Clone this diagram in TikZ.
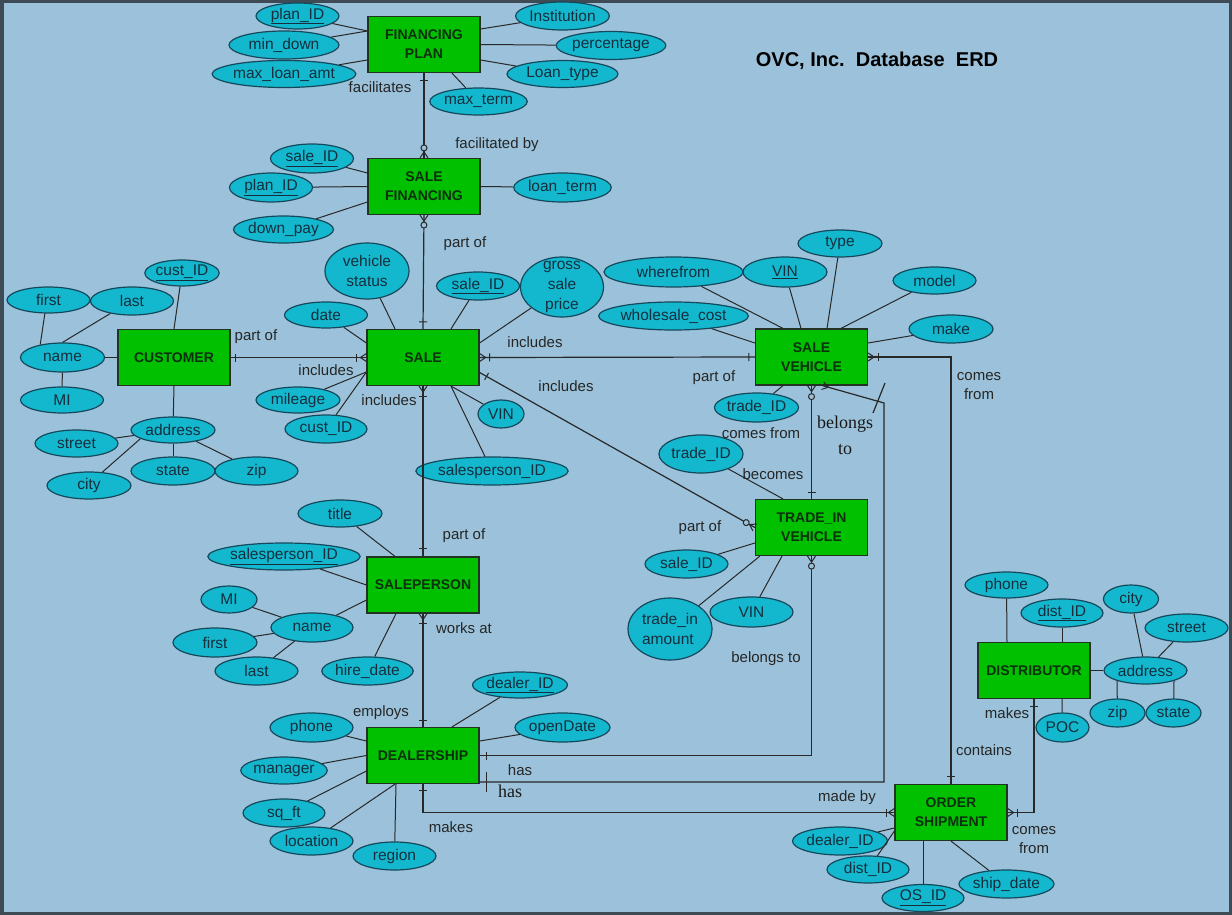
\documentclass[tikz,border=0pt]{standalone}
\usepackage{fontspec}
\setmainfont{Liberation Sans}
\newfontfamily\timesface{Liberation Serif}
\usepackage{tikz}
\usetikzlibrary{shapes.geometric}
\usetikzlibrary{decorations.markings}
\usetikzlibrary{positioning}
\definecolor{bgblue}{RGB}{155,194,218}
\definecolor{framegray}{RGB}{62,74,84}
\definecolor{entgreen}{RGB}{0,192,0}
\definecolor{entline}{RGB}{35,50,35}
\definecolor{enttext}{RGB}{12,48,12}
\definecolor{attrcyan}{RGB}{20,184,206}
\definecolor{attrline}{RGB}{22,72,92}
\definecolor{attrtext}{RGB}{22,46,62}
\definecolor{relline}{RGB}{40,40,40}
\tikzset{
  entity/.style = {rectangle, draw=entline, fill=entgreen, line width=1.2pt,
    minimum width=112pt, minimum height=56pt, inner sep=1pt, align=center,
    text=enttext, font=\fontsize{14}{19}\selectfont\bfseries},% entite
  attr/.style = {ellipse, draw=attrline, fill=attrcyan, line width=1.2pt,
    minimum width=83pt, minimum height=28pt, inner sep=0pt, align=center,
    text=attrtext, font=\fontsize{15.5}{20}\selectfont},% attribut
  lbl/.style = {inner sep=0pt, text=black!85, align=center,
    font=\fontsize{15}{19}\selectfont},
  tlbl/.style = {inner sep=0pt, text=black!90, align=center,
    font=\timesface\fontsize{18}{26}\selectfont},
  link/.style = {draw=relline, line width=1pt},
  rel/.style = {draw=relline, line width=1.2pt},
  one at/.style = {postaction={decorate, decoration={markings,
    mark=at position #1 with {\draw[relline, line width=1pt] (0pt,-4pt) -- (0pt,4pt);}}}},
  bar at/.style = {postaction={decorate, decoration={markings,
    mark=at position #1 with {\draw[relline, line width=1.2pt] (0pt,-10pt) -- (0pt,10pt);}}}},
  zero at/.style = {postaction={decorate, decoration={markings,
    mark=at position #1 with {\draw[relline, line width=1pt, fill=bgblue] (0pt,0pt) circle (3pt);}}}},
  many end/.style = {postaction={decorate, decoration={markings,
    mark=at position -6pt with {\draw[relline, line width=1pt] (6pt,4pt) -- (0pt,0pt) -- (6pt,-4pt);}}}},
  many start/.style = {postaction={decorate, decoration={markings,
    mark=at position 6pt with {\draw[relline, line width=1pt] (-6pt,4pt) -- (0pt,0pt) -- (-6pt,-4pt);}}}}
}
\begin{document}
\begin{tikzpicture}[x=1pt, y=-1pt]
\fill[framegray] (0,0) rectangle (1232,915);
\fill[bgblue] (4,3) rectangle (1229,912);

\node[inner sep=0pt, font=\fontsize{20}{24}\selectfont\bfseries] (title) at (877,61)
  {OVC, Inc.\ \ Database\ \ ERD};

% entities
\node[entity] (fp) at (424,44.5) {FINANCING\\PLAN};
\node[entity] (sf) at (424,186.5) {SALE\\FINANCING};
\node[entity] (cu) at (174,357.5) {CUSTOMER};
\node[entity] (sa) at (423,357.5) {SALE};
\node[entity] (sv) at (811.5,357) {SALE\\VEHICLE};
\node[entity] (tv) at (811.5,527.5) {TRADE\_IN\\VEHICLE};
\node[entity] (sp) at (423,585) {SALEPERSON};
\node[entity] (dl) at (423,755.5) {DEALERSHIP};
\node[entity] (di) at (1034,670.5) {DISTRIBUTOR};
\node[entity] (os) at (951,812.5) {ORDER\\SHIPMENT};

% financing plan
\node[attr, minimum height=26pt] (fpid) at (297.5,16) {\underline{plan\_ID}};
\node[attr, minimum width=110pt] (fpmin) at (284,45) {min\_down};
\node[attr, minimum width=138pt, minimum height=27pt] (fpmax) at (284,74) {max\_loan\_amt};
\node[attr] (fpinst) at (562.5,16) {Institution};
\node[attr, minimum width=97pt] (fppct) at (611,45.5) {percentage};
\node[attr, minimum width=111pt, minimum height=27pt] (fptype) at (562.5,74) {Loan\_type};
\node[attr, minimum width=85pt, minimum height=27pt] (fpterm) at (478.5,101.5) {max\_term};
\draw[link] (fpid) -- ([yshift=13.5pt]fp.west);
\draw[link] (fpmin) -- ([yshift=13.5pt]fp.west);
\draw[link] (fpmax) -- ([yshift=-15.5pt]fp.west);
\draw[link] (fpinst) -- ([yshift=15.5pt]fp.east);
\draw[link] (fppct) -- (fp.east);
\draw[link] (fptype) -- ([yshift=-15.5pt]fp.east);
\draw[link] (fpterm) -- ([xshift=28pt]fp.south);

% sale financing
\node[attr, minimum height=29pt] (sfsid) at (312,158.5) {\underline{sale\_ID}};
\node[attr, minimum height=29pt] (sfpid) at (271,187.5) {\underline{plan\_ID}};
\node[attr, minimum height=27pt] (sfdown) at (283.5,229.5) {down\_pay};
\node[attr, minimum height=29pt] (sfterm) at (562.5,187.5) {loan\_term};
\draw[link] (sfsid) -- ([yshift=13.5pt]sf.west);
\draw[link] (sfpid) -- (sf.west);
\draw[link] (sfdown) -- ([yshift=-15.5pt]sf.west);
\draw[link] (sfterm) -- (sf.east);

% customer
\node[attr, minimum width=73pt, minimum height=26pt] (cuid) at (182,273) {\underline{cust\_ID}};
\node[attr, minimum height=26pt] (cufirst) at (48.5,300) {first};
\node[attr] (culast) at (132,301) {last};
\node[attr, minimum width=84pt, minimum height=29pt] (cuname) at (62.5,357.5) {name};
\node[attr, minimum height=26pt] (cumi) at (62,400) {MI};
\node[attr, minimum width=84pt, minimum height=26pt] (cuaddr) at (173,430) {address};
\node[attr, minimum height=27pt] (custreet) at (76.5,443.5) {street};
\node[attr, minimum width=84pt] (custate) at (173,471) {state};
\node[attr] (cuzip) at (256.5,471) {zip};
\node[attr, minimum width=84pt, minimum height=27pt] (cucity) at (89,485.5) {city};
\draw[link] (cuid) -- (cu.north);
\draw[link] (cuname) -- (cu.west);
\draw[link] (cufirst.255) -- (cuname.150);
\draw[link] (culast.210) -- (cuname.north);
\draw[link] (cumi) -- (cuname);
\draw[link] (cuaddr) -- (cu.south);
\draw[link] (custreet) -- (cuaddr);
\draw[link] (cucity.45) -- (cuaddr.195);
\draw[link] (custate) -- (cuaddr);
\draw[link] (cuzip) -- (cuaddr);

% sale
\node[attr, minimum width=84pt, minimum height=56pt] (sastat) at (367,271) {vehicle\\status};
\node[attr] (said) at (478,286) {\underline{sale\_ID}};
\node[attr, minimum height=60pt, inner ysep=-6pt] (sagross) at (562,287) {gross\\sale\\price};
\node[attr, minimum height=26pt] (sadate) at (326,315) {date};
\node[attr, minimum width=84pt, minimum height=26pt] (samil) at (298,400) {mileage};
\node[attr, minimum width=82pt] (sacid) at (326,429) {cust\_ID};
\node[attr, minimum width=46pt] (savin) at (501,414) {VIN};
\node[attr, minimum width=137pt] (saspid) at (492,471) {salesperson\_ID};
\draw[link] (sastat) -- ([xshift=-28pt]sa.north);
\draw[link] (said) -- ([xshift=28pt]sa.north);
\draw[link] (sagross) -- ([yshift=14.5pt]sa.east);
\draw[link] (sadate) -- ([yshift=14.5pt]sa.west);
\draw[link] (samil) -- ([yshift=-14.5pt]sa.west);
\draw[link] (sacid) -- ([yshift=-14.5pt]sa.west);
\draw[link] (savin) -- ([xshift=28pt]sa.south);
\draw[link] (saspid) -- ([xshift=28pt]sa.south);

% sale vehicle
\node[attr, minimum width=139pt, minimum height=30pt] (svfrom) at (673.5,272) {wherefrom};
\node[attr, minimum width=84pt, minimum height=30pt] (svvin) at (785,272) {\underline{VIN}};
\node[attr, minimum width=84pt, minimum height=27pt] (svtype) at (840,243.5) {type};
\node[attr, minimum height=27pt] (svmodel) at (934.5,280.5) {model};
\node[attr, minimum width=139pt] (svcost) at (673.5,316) {wholesale\_cost};
\node[attr, minimum width=84pt] (svmake) at (951,329) {make};
\node[attr, minimum height=29pt] (svtid) at (756.5,407.5) {trade\_ID};
\draw[link] (svfrom) -- ([xshift=-28.5pt]sv.north);
\draw[link] (svvin) -- ([xshift=-10.5pt]sv.north);
\draw[link] (svtype) -- ([xshift=15.5pt]sv.north);
\draw[link] (svmodel) -- ([xshift=29.5pt]sv.north);
\draw[link] (svcost) -- ([yshift=14pt]sv.west);
\draw[link] (svmake) -- ([yshift=14pt]sv.east);
\draw[link] (svtid) -- ([xshift=-28.5pt]sv.south);

% trade-in vehicle
\node[attr, minimum width=84pt, minimum height=38pt] (tvtid) at (701,454) {trade\_ID};
\node[attr] (tvsid) at (686.5,564) {sale\_ID};
\node[attr, minimum width=84pt, minimum height=62pt, align=left] (tvamt) at (670,629) {trade\_in\\amount};
\node[attr, minimum height=30pt] (tvvin) at (751.5,612) {VIN};
\draw[link] (tvtid) -- ([xshift=-28.5pt]tv.north);
\draw[link] (tvsid) -- ([yshift=-15.5pt]tv.west);
\draw[link] (tvamt) -- ([xshift=5pt]tv.south west);
\draw[link] (tvvin) -- ([xshift=-29.5pt]tv.south);

% saleperson
\node[attr, minimum width=84pt, minimum height=27pt] (sptitle) at (340,513.5) {title};
\node[attr, minimum width=138pt, minimum height=27pt] (spid) at (284,556.5) {\underline{salesperson\_ID}};
\node[attr, minimum width=56pt, minimum height=27pt] (spmi) at (229,599.5) {MI};
\node[attr, minimum width=82pt, minimum height=29pt] (spname) at (312,627.5) {name};
\node[attr, minimum width=84pt, minimum height=29pt] (spfirst) at (215,642.5) {first};
\node[attr] (splast) at (256.5,671) {last};
\node[attr] (sphire) at (367.5,671) {hire\_date};
\draw[link] (sptitle) -- ([xshift=-28pt]sp.north);
\draw[link] (spid) -- (sp.west);
\draw[link] (spname) -- ([yshift=-15pt]sp.west);
\draw[link] (sphire) -- ([xshift=-27pt]sp.south);
\draw[link] (spmi) -- (spname);
\draw[link] (spfirst) -- (spname);
\draw[link] (splast) -- (spname);

% dealership
\node[attr, minimum width=84pt, minimum height=26pt] (dlid) at (520,685) {\underline{dealer\_ID}};
\node[attr, minimum height=29pt] (dlopen) at (562.5,727.5) {openDate};
\node[attr, minimum height=29pt] (dlphone) at (311.5,727.5) {phone};
\node[attr, minimum width=82pt, minimum height=27pt] (dlman) at (284,770.5) {manager};
\node[attr, minimum width=82pt] (dlsq) at (284,813) {sq\_ft};
\node[attr] (dlloc) at (311.5,841) {location};
\node[attr] (dlreg) at (394.5,856) {region};
\draw[link] (dlid) -- ([xshift=29pt]dl.north);
\draw[link] (dlopen) -- ([yshift=14.5pt]dl.east);
\draw[link] (dlphone) -- ([yshift=14.5pt]dl.west);
\draw[link] (dlman) -- (dl.west);
\draw[link] (dlsq) -- ([yshift=-15.5pt]dl.west);
\draw[link] (dlloc) -- ([xshift=-28pt]dl.south);
\draw[link] (dlreg) -- ([xshift=-27pt]dl.south);

% distributor
\node[attr, minimum height=26pt] (diphone) at (1006.5,585) {phone};
\node[attr, minimum width=82pt] (diid) at (1062,613) {\underline{dist\_ID}};
\node[attr, minimum width=55pt] (dicity) at (1131,599) {city};
\node[attr] (distreet) at (1186.5,628) {street};
\node[attr, minimum height=27pt] (diaddr) at (1145.5,670.5) {address};
\node[attr, minimum width=55pt] (dizip) at (1117.5,713) {zip};
\node[attr, minimum width=55pt] (distate) at (1173.5,713) {state};
\node[attr, minimum width=53pt, minimum height=29pt] (dipoc) at (1062.5,727.5) {POC};
\draw[link] (diphone) -- ([xshift=-27pt]di.north);
\draw[link] (diid) -- ([xshift=28pt]di.north);
\draw[link] (diaddr) -- (di.east);
\draw[link] (dipoc) -- ([xshift=28pt]di.south);
\draw[link] (dicity) -- (diaddr);
\draw[link] (distreet) -- (diaddr);
\draw[link] (dizip) -- (diaddr.200);
\draw[link] (distate) -- (diaddr.340);

% order shipment
\node[attr, minimum width=84pt] (osdlid) at (840,841) {dealer\_ID};
\node[attr, minimum width=82pt, minimum height=27pt] (osdid) at (868,869.5) {dist\_ID};
\node[attr, minimum width=82pt, minimum height=27pt] (osid) at (923,898) {\underline{OS\_ID}};
\node[attr] (osship) at (1006.5,884) {ship\_date};
\draw[link] (osdlid) -- ([yshift=-15.5pt]os.west);
\draw[link] (osdid) -- ([yshift=-18.5pt]os.west);
\draw[link] (osid) -- ([xshift=-28pt]os.south);
\draw[link] (osship) -- (os.south);

% relationships
\draw[rel, one at=7pt, zero at=-10pt, many end] (fp.south) -- (sf.north);
\draw[rel, many start, zero at=10pt, one at=-7pt] (sf.south) -- (sa.north);
\draw[rel, one at=5pt, one at=-10pt, many end] (cu.east) -- (sa.west);
\draw[rel, many start, one at=10pt, one at=-6pt] (sa.east) -- (sv.west);
\draw[rel, one at=8pt, zero at=-10pt, many end] ([yshift=-15pt]sa.east) -- (tv.west);
\draw[rel, many start, zero at=11pt, one at=-6pt] (sv.south) -- (tv.north);
\draw[rel, many start, zero at=10pt, one at=-7pt] (tv.south) |- (dl.east);
\coordinate (bend) at (884,403);
\draw[rel, bar at=7pt, many end] ([yshift=-26.5pt]dl.east) -| (bend) -- ([xshift=11pt]sv.south);
\draw[rel] (873,413) -- (885,383);
\draw[rel, many start, one at=10pt, one at=-7pt] (sv.east) -| (os.north);
\draw[rel, one at=6pt, one at=-8pt, many end] (dl.south) |- (os.west);
\draw[rel, one at=7pt, one at=-10pt, many end] (di.south) |- (os.east);
\draw[rel, many start, one at=10pt, one at=-8pt] (sa.south) -- (sp.north);
\draw[rel, many start, one at=10pt, one at=-6pt] (sp.south) -- (dl.north);

% relationship labels
\node[lbl] (l1) at (380,87) {facilitates};
\node[lbl] (l2) at (497,145) {facilitated by};
\node[lbl] (l3) at (465,244) {part of};
\node[lbl] (l4) at (256,337) {part of};
\node[lbl] (l5) at (326,370) {includes};
\node[lbl] (l6) at (389,400) {includes};
\node[lbl] (l7) at (535,342) {includes};
\node[lbl] (l8) at (566,386) {includes};
\node[lbl] (l9) at (714,378) {part of};
\node[lbl] (l10) at (761,433) {comes from};
\node[lbl] (l11) at (773,474) {becomes};
\node[lbl] (l12) at (700,528) {part of};
\node[lbl] (l13) at (766,659) {belongs to};
\node[tlbl] (l14) at (845,435) {belongs\\to};
\node[lbl] (l15) at (979,386) {comes\\from};
\node[lbl] (l16) at (464,536) {part of};
\node[lbl] (l17) at (464,628) {works at};
\node[lbl] (l18) at (381,713) {employs};
\node[lbl] (l19) at (520,770) {has};
\node[tlbl] (l20) at (510,791) {has};
\node[lbl] (l21) at (451,827) {makes};
\node[lbl] (l22) at (847,798) {made by};
\node[lbl] (l23) at (984,750) {contains};
\node[lbl] (l24) at (1007,713) {makes};
\node[lbl] (l25) at (1034,840) {comes\\from};
\end{tikzpicture}
\end{document}
